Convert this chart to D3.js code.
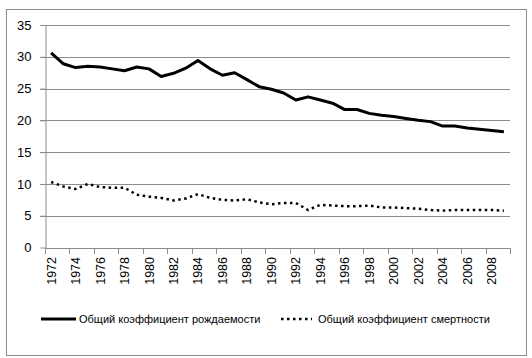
<!DOCTYPE html>
<html><head><meta charset="utf-8">
<script src="https://cdn.jsdelivr.net/npm/d3@7"></script>
<style>
html,body{margin:0;padding:0;background:#fff;}
svg{display:block;font-family:"Liberation Sans",Arial,sans-serif;}
</style></head>
<body><svg id="c" width="532" height="358"></svg>
<script>
const years = d3.range(1972, 2010);
const birthRate = [30.6,28.9,28.3,28.5,28.4,28.1,27.8,28.4,28.1,26.9,27.4,28.2,29.4,28.1,27.1,27.5,26.4,25.3,24.9,24.3,23.2,23.7,23.2,22.7,21.7,21.7,21.1,20.8,20.6,20.3,20.0,19.8,19.1,19.1,18.8,18.6,18.4,18.2];
const deathRate = [10.3,9.6,9.2,10.0,9.5,9.4,9.4,8.3,8.0,7.8,7.4,7.7,8.4,7.8,7.5,7.4,7.6,7.1,6.8,7.0,7.0,5.9,6.7,6.6,6.5,6.5,6.6,6.3,6.3,6.2,6.1,5.9,5.8,5.9,5.9,5.9,5.9,5.8];
const yTicks = [0,5,10,15,20,25,30,35];
const seriesNames = ["Общий коэффициент рождаемости","Общий коэффициент смертности"];

const svg = d3.select("#c");
svg.append("rect").attr("x",6.5).attr("y",9.5).attr("width",520).attr("height",346)
  .attr("fill","#fff").attr("stroke","#8c8c8c").attr("stroke-width",1);

const L = 45, R = 510, T = 25, B = 247.5;
const x = d3.scaleBand().domain(years).range([L, R]).padding(0);
const y = d3.scaleLinear().domain([0,35]).range([B, T]);

// gridlines
svg.append("g").selectAll("line").data(yTicks.filter(d=>d>0)).join("line")
  .attr("x1",L-5).attr("x2",R).attr("y1",d=>Math.round(y(d))+0.5).attr("y2",d=>Math.round(y(d))+0.5)
  .attr("stroke","#8c8c8c").attr("stroke-width",1);

// y axis
const yAxis = svg.append("g").attr("transform",`translate(${L+0.5},0)`)
  .call(d3.axisLeft(y).tickValues(yTicks).tickSize(5).tickPadding(9).tickSizeOuter(0));
yAxis.select(".domain").attr("stroke","#8c8c8c");
yAxis.selectAll(".tick line").attr("stroke","#8c8c8c");
yAxis.selectAll(".tick text").attr("font-size",13).attr("fill","#000").attr("font-family","Liberation Sans, Arial, sans-serif");

// x axis line and ticks at band boundaries every 2 categories
svg.append("line").attr("x1",L).attr("x2",R).attr("y1",Math.round(B)+0.5).attr("y2",Math.round(B)+0.5).attr("stroke","#8c8c8c");
const boundaries = years.filter((d,i)=>i%2===0).map(d=>x(d)).concat([R]);
svg.append("g").selectAll("line").data(boundaries).join("line")
  .attr("x1",d=>Math.round(d)+0.5).attr("x2",d=>Math.round(d)+0.5)
  .attr("y1",Math.round(B)).attr("y2",Math.round(B)+6).attr("stroke","#8c8c8c");
svg.append("g").selectAll("text").data(years.filter((d,i)=>i%2===0)).join("text")
  .attr("transform",d=>`translate(${x(d)+x.bandwidth()/2+4.5},257) rotate(-90)`)
  .attr("text-anchor","end").attr("font-size",12.5).attr("fill","#000").text(d=>d);

const cx = d => x(d) + x.bandwidth()/2;
const line = d3.line().x((d,i)=>cx(years[i])).y(d=>y(d));
svg.append("path").datum(birthRate).attr("d",line).attr("fill","none")
  .attr("stroke","#000").attr("stroke-width",3).attr("stroke-linejoin","round");
svg.append("path").datum(deathRate).attr("d",line).attr("fill","none")
  .attr("stroke","#000").attr("stroke-width",2.5).attr("stroke-dasharray","2.5,3.5");

// legend
const lg = svg.append("g");
lg.append("line").attr("x1",41).attr("x2",76).attr("y1",319).attr("y2",319).attr("stroke","#000").attr("stroke-width",3);
lg.append("text").attr("x",79).attr("y",323).attr("font-size",11).text(seriesNames[0]);
lg.append("line").attr("x1",281).attr("x2",312).attr("y1",319).attr("y2",319).attr("stroke","#000").attr("stroke-width",2.5).attr("stroke-dasharray","2.5,3.5");
lg.append("text").attr("x",318).attr("y",323).attr("font-size",11).text(seriesNames[1]);
</script></body></html>
